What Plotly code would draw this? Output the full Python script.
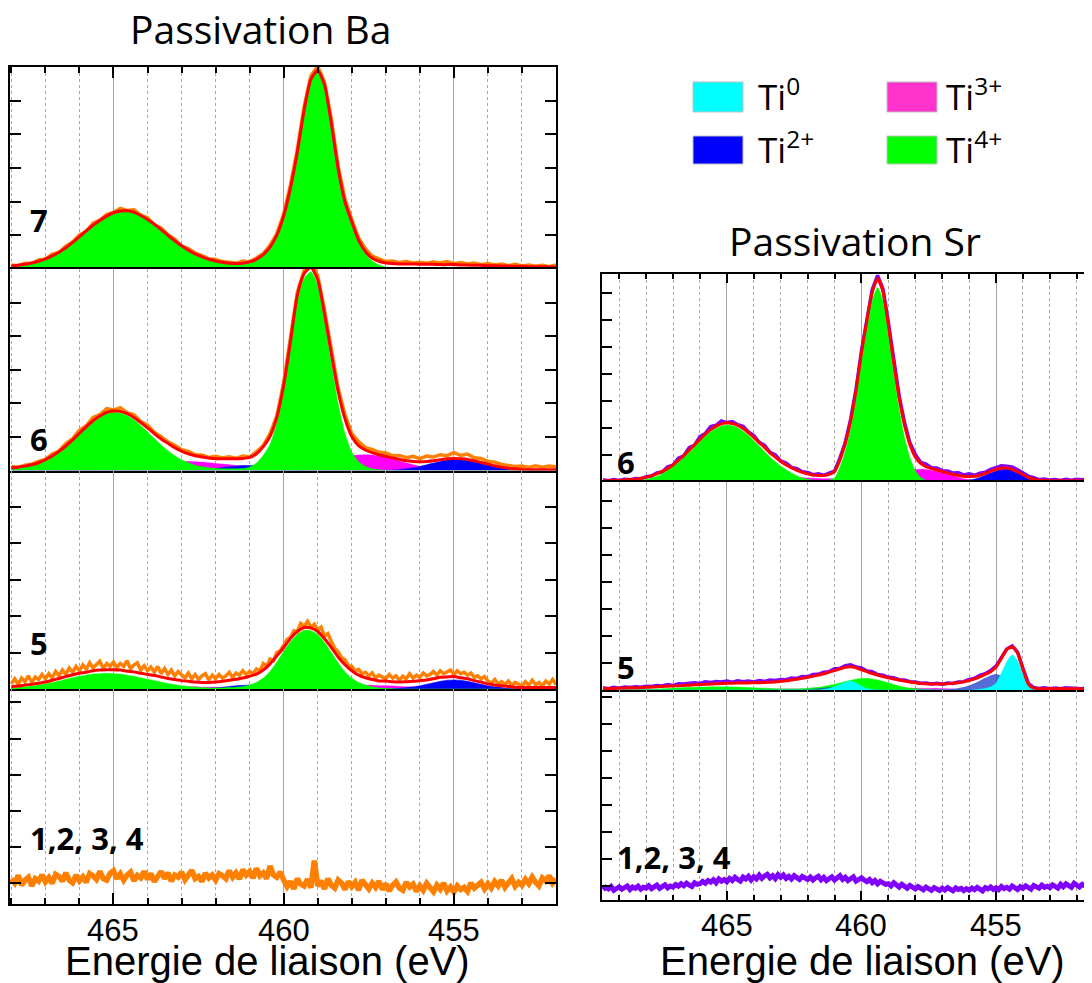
import plotly.graph_objects as go

W, H = 1092, 983
PAGE_MARGIN = 8  # the browser puts the figure 8px from the page corner

# binding energy grids (eV)
E_BA = [468.0, 467.8, 467.6, 467.4, 467.2, 467.0, 466.8, 466.6, 466.4, 466.2,
        466.0, 465.8, 465.6, 465.4, 465.2, 465.0, 464.8, 464.6, 464.4, 464.2,
        464.0, 463.8, 463.6, 463.4, 463.2, 463.0, 462.8, 462.6, 462.4, 462.2,
        462.0, 461.8, 461.6, 461.4, 461.2, 461.0, 460.8, 460.6, 460.4, 460.2,
        460.0, 459.8, 459.6, 459.4, 459.2, 459.0, 458.8, 458.6, 458.4, 458.2,
        458.0, 457.8, 457.6, 457.4, 457.2, 457.0, 456.8, 456.6, 456.4, 456.2,
        456.0, 455.8, 455.6, 455.4, 455.2, 455.0, 454.8, 454.6, 454.4, 454.2,
        454.0, 453.8, 453.6, 453.4, 453.2, 453.0, 452.8, 452.6, 452.4, 452.2,
        452.0]
E_SR = [469.6, 469.4, 469.2, 469.0, 468.8, 468.6, 468.4, 468.2] + E_BA + [451.8, 451.6, 451.4]

# finer grid for the noisiest raw spectra
E_BA_FINE = [468.0, 467.9, 467.8, 467.7, 467.6, 467.5, 467.4, 467.3, 467.2, 467.1,
             467.0, 466.9, 466.8, 466.7, 466.6, 466.5, 466.4, 466.3, 466.2, 466.1,
             466.0, 465.9, 465.8, 465.7, 465.6, 465.5, 465.4, 465.3, 465.2, 465.1,
             465.0, 464.9, 464.8, 464.7, 464.6, 464.5, 464.4, 464.3, 464.2, 464.1,
             464.0, 463.9, 463.8, 463.7, 463.6, 463.5, 463.4, 463.3, 463.2, 463.1,
             463.0, 462.9, 462.8, 462.7, 462.6, 462.5, 462.4, 462.3, 462.2, 462.1,
             462.0, 461.9, 461.8, 461.7, 461.6, 461.5, 461.4, 461.3, 461.2, 461.1,
             461.0, 460.9, 460.8, 460.7, 460.6, 460.5, 460.4, 460.3, 460.2, 460.1,
             460.0, 459.9, 459.8, 459.7, 459.6, 459.5, 459.4, 459.3, 459.2, 459.1,
             459.0, 458.9, 458.8, 458.7, 458.6, 458.5, 458.4, 458.3, 458.2, 458.1,
             458.0, 457.9, 457.8, 457.7, 457.6, 457.5, 457.4, 457.3, 457.2, 457.1,
             457.0, 456.9, 456.8, 456.7, 456.6, 456.5, 456.4, 456.3, 456.2, 456.1,
             456.0, 455.9, 455.8, 455.7, 455.6, 455.5, 455.4, 455.3, 455.2, 455.1,
             455.0, 454.9, 454.8, 454.7, 454.6, 454.5, 454.4, 454.3, 454.2, 454.1,
             454.0, 453.9, 453.8, 453.7, 453.6, 453.5, 453.4, 453.3, 453.2, 453.1,
             453.0, 452.9, 452.8, 452.7, 452.6, 452.5, 452.4, 452.3, 452.2, 452.1,
             452.0]
E_SR_FINE = ([469.6, 469.5, 469.4, 469.3, 469.2, 469.1, 469.0, 468.9,
              468.8, 468.7, 468.6, 468.5, 468.4, 468.3, 468.2, 468.1]
             + E_BA_FINE + [451.9, 451.8, 451.7, 451.6, 451.5, 451.4])

tick_values = [465, 460, 455]

# ---- Passivation Ba ----
ba7_raw = [0.12, 0.10, 0.17, 0.16, 0.27, 0.29, 0.44, 0.49, 0.68, 0.80,
           1.01, 1.12, 1.36, 1.45, 1.62, 1.68, 1.80, 1.74, 1.76, 1.60,
           1.52, 1.31, 1.22, 1.02, 0.89, 0.68, 0.61, 0.47, 0.40, 0.30,
           0.28, 0.22, 0.20, 0.17, 0.24, 0.21, 0.33, 0.46, 0.70, 1.05,
           1.64, 2.50, 3.55, 4.82, 5.74, 6.02, 5.55, 4.45, 3.05, 2.08,
           1.47, 0.92, 0.60, 0.38, 0.30, 0.22, 0.24, 0.19, 0.22, 0.18,
           0.20, 0.17, 0.21, 0.18, 0.22, 0.16, 0.19, 0.15, 0.18, 0.13,
           0.16, 0.12, 0.15, 0.10, 0.14, 0.09, 0.12, 0.08, 0.11, 0.07,
           0.12]
ba7_fit = [0.09, 0.11, 0.14, 0.18, 0.23, 0.30, 0.39, 0.50, 0.63, 0.79,
           0.96, 1.13, 1.30, 1.44, 1.57, 1.67, 1.72, 1.73, 1.69, 1.59,
           1.47, 1.33, 1.17, 1.00, 0.84, 0.69, 0.56, 0.45, 0.36, 0.29,
           0.24, 0.20, 0.17, 0.16, 0.17, 0.21, 0.29, 0.43, 0.65, 1.01,
           1.58, 2.41, 3.46, 4.71, 5.63, 5.90, 5.47, 4.32, 2.98, 1.99,
           1.40, 0.86, 0.52, 0.32, 0.23, 0.18, 0.16, 0.15, 0.15, 0.15,
           0.14, 0.14, 0.14, 0.13, 0.13, 0.13, 0.12, 0.12, 0.11, 0.11,
           0.10, 0.10, 0.09, 0.09, 0.08, 0.08, 0.07, 0.07, 0.07, 0.06,
           0.06]
ba7_ti4 = [0.08, 0.10, 0.13, 0.17, 0.22, 0.29, 0.38, 0.49, 0.62, 0.78,
           0.95, 1.12, 1.29, 1.43, 1.56, 1.66, 1.71, 1.72, 1.68, 1.58,
           1.46, 1.32, 1.16, 0.99, 0.83, 0.68, 0.55, 0.44, 0.35, 0.28,
           0.23, 0.19, 0.16, 0.15, 0.16, 0.20, 0.28, 0.42, 0.64, 1.00,
           1.57, 2.40, 3.45, 4.70, 5.62, 5.88, 5.45, 4.30, 2.95, 1.95,
           1.35, 0.80, 0.45, 0.24, 0.12, 0.06, 0.03, 0.02, 0.01, 0.0,
           0, 0, 0, 0, 0, 0, 0, 0, 0, 0,
           0, 0, 0, 0, 0, 0, 0, 0, 0, 0,
           0]

ba6_raw = [0.12, 0.09, 0.16, 0.19, 0.27, 0.33, 0.49, 0.58, 0.80, 0.95,
           1.20, 1.33, 1.58, 1.66, 1.84, 1.80, 1.87, 1.72, 1.66, 1.46,
           1.35, 1.14, 1.01, 0.85, 0.75, 0.62, 0.57, 0.47, 0.46, 0.39,
           0.42, 0.37, 0.41, 0.36, 0.43, 0.40, 0.56, 0.74, 1.10, 1.63,
           2.62, 3.90, 5.30, 5.95, 6.20, 5.80, 4.78, 3.60, 2.45, 1.66,
           1.10, 0.86, 0.68, 0.63, 0.54, 0.52, 0.44, 0.45, 0.38, 0.42,
           0.35, 0.43, 0.40, 0.47, 0.44, 0.53, 0.45, 0.49, 0.38, 0.36,
           0.27, 0.25, 0.18, 0.15, 0.12, 0.13, 0.09, 0.14, 0.10, 0.13,
           0.11]
ba6_fit = [0.08, 0.10, 0.13, 0.17, 0.23, 0.32, 0.43, 0.57, 0.73, 0.91,
           1.11, 1.30, 1.48, 1.62, 1.73, 1.77, 1.76, 1.69, 1.58, 1.43,
           1.27, 1.10, 0.94, 0.81, 0.68, 0.58, 0.50, 0.44, 0.40, 0.37,
           0.35, 0.35, 0.35, 0.35, 0.36, 0.39, 0.50, 0.71, 1.02, 1.59,
           2.54, 3.84, 5.21, 5.86, 6.05, 5.68, 4.66, 3.48, 2.36, 1.54,
           1.01, 0.74, 0.61, 0.53, 0.47, 0.42, 0.37, 0.33, 0.29, 0.27,
           0.26, 0.27, 0.29, 0.32, 0.35, 0.36, 0.35, 0.33, 0.29, 0.24,
           0.19, 0.14, 0.10, 0.07, 0.05, 0.03, 0.02, 0.02, 0.02, 0.02,
           0.02]
ba6_ti4 = [0.05, 0.07, 0.10, 0.14, 0.20, 0.29, 0.40, 0.54, 0.70, 0.87,
           1.07, 1.26, 1.44, 1.58, 1.69, 1.73, 1.71, 1.63, 1.51, 1.34,
           1.15, 0.95, 0.76, 0.59, 0.44, 0.32, 0.23, 0.16, 0.11, 0.08,
           0.06, 0.05, 0.05, 0.05, 0.06, 0.10, 0.22, 0.45, 0.78, 1.42,
           2.40, 3.70, 5.07, 5.72, 5.92, 5.52, 4.45, 3.20, 2.00, 1.10,
           0.55, 0.26, 0.12, 0.05, 0.02, 0.01, 0, 0, 0, 0,
           0, 0, 0, 0, 0, 0, 0, 0, 0, 0,
           0, 0, 0, 0, 0, 0, 0, 0, 0, 0,
           0]
ba6_ti3 = [0, 0, 0, 0, 0, 0.01, 0.01, 0.01, 0.02, 0.02,
           0.03, 0.04, 0.05, 0.06, 0.08, 0.09, 0.11, 0.13, 0.15, 0.17,
           0.19, 0.21, 0.23, 0.25, 0.26, 0.27, 0.27, 0.26, 0.25, 0.23,
           0.21, 0.19, 0.17, 0.15, 0.13, 0.12, 0.12, 0.12, 0.13, 0.15,
           0.17, 0.19, 0.22, 0.25, 0.28, 0.31, 0.34, 0.36, 0.39, 0.42,
           0.44, 0.46, 0.47, 0.46, 0.43, 0.39, 0.34, 0.28, 0.22, 0.17,
           0.12, 0.08, 0.05, 0.03, 0.02, 0.01, 0, 0, 0, 0,
           0, 0, 0, 0, 0, 0, 0, 0, 0, 0,
           0]
ba6_ti2 = [0, 0, 0, 0, 0, 0, 0, 0, 0, 0,
           0, 0, 0, 0, 0, 0, 0, 0, 0, 0,
           0, 0, 0, 0, 0, 0, 0, 0.01, 0.02, 0.04,
           0.06, 0.09, 0.11, 0.13, 0.15, 0.15, 0.14, 0.12, 0.09, 0.07,
           0.05, 0.03, 0.02, 0.01, 0, 0, 0, 0, 0, 0,
           0, 0, 0, 0, 0, 0, 0.01, 0.03, 0.05, 0.08,
           0.12, 0.17, 0.22, 0.27, 0.31, 0.33, 0.33, 0.31, 0.27, 0.22,
           0.17, 0.12, 0.08, 0.05, 0.03, 0.01, 0, 0, 0, 0,
           0]

ba5_raw = [0.14, 0.28, 0.12, 0.30, 0.20, 0.36, 0.18, 0.33, 0.26, 0.40,
           0.28, 0.42, 0.30, 0.48, 0.36, 0.52, 0.40, 0.58, 0.46, 0.62,
           0.50, 0.66, 0.54, 0.72, 0.58, 0.68, 0.76, 0.56, 0.70, 0.62,
           0.74, 0.58, 0.70, 0.62, 0.78, 0.55, 0.66, 0.72, 0.52, 0.64,
           0.50, 0.60, 0.46, 0.62, 0.42, 0.56, 0.40, 0.52, 0.36, 0.48,
           0.38, 0.30, 0.44, 0.28, 0.40, 0.26, 0.36, 0.42, 0.25, 0.38,
           0.28, 0.40, 0.30, 0.36, 0.46, 0.32, 0.44, 0.38, 0.50, 0.40,
           0.48, 0.42, 0.55, 0.50, 0.70, 0.62, 0.82, 0.78, 1.00, 1.05,
           1.20, 1.36, 1.42, 1.60, 1.58, 1.80, 1.72, 1.86, 1.70, 1.78,
           1.62, 1.70, 1.45, 1.52, 1.30, 1.12, 1.02, 0.86, 0.80, 0.64,
           0.62, 0.50, 0.54, 0.42, 0.46, 0.36, 0.44, 0.30, 0.38, 0.34,
           0.28, 0.40, 0.30, 0.36, 0.24, 0.35, 0.28, 0.42, 0.30, 0.38,
           0.32, 0.44, 0.36, 0.40, 0.48, 0.38, 0.50, 0.42, 0.46, 0.52,
           0.40, 0.50, 0.42, 0.46, 0.38, 0.44, 0.32, 0.36, 0.28, 0.34,
           0.22, 0.16, 0.26, 0.14, 0.20, 0.12, 0.22, 0.10, 0.18, 0.14,
           0.08, 0.20, 0.10, 0.24, 0.12, 0.18, 0.08, 0.22, 0.14, 0.26,
           0.12]
ba5_fit = [0.07, 0.08, 0.11, 0.13, 0.16, 0.19, 0.24, 0.29, 0.34, 0.39,
           0.43, 0.46, 0.50, 0.52, 0.53, 0.53, 0.52, 0.49, 0.47, 0.43,
           0.40, 0.37, 0.33, 0.29, 0.26, 0.23, 0.21, 0.19, 0.18, 0.18,
           0.19, 0.21, 0.24, 0.27, 0.30, 0.35, 0.41, 0.52, 0.69, 0.91,
           1.14, 1.39, 1.58, 1.69, 1.68, 1.58, 1.38, 1.14, 0.88, 0.67,
           0.50, 0.38, 0.31, 0.26, 0.22, 0.22, 0.20, 0.19, 0.20, 0.21,
           0.23, 0.25, 0.28, 0.32, 0.33, 0.34, 0.31, 0.28, 0.23, 0.19,
           0.14, 0.11, 0.09, 0.07, 0.05, 0.04, 0.04, 0.04, 0.04, 0.04,
           0.04]
ba5_ti4 = [0.03, 0.04, 0.06, 0.08, 0.11, 0.14, 0.18, 0.22, 0.27, 0.31,
           0.35, 0.38, 0.41, 0.42, 0.43, 0.42, 0.41, 0.38, 0.35, 0.31,
           0.27, 0.23, 0.19, 0.15, 0.12, 0.09, 0.07, 0.05, 0.04, 0.03,
           0.03, 0.03, 0.04, 0.05, 0.07, 0.11, 0.18, 0.30, 0.48, 0.74,
           1.04, 1.30, 1.50, 1.61, 1.60, 1.49, 1.28, 1.00, 0.72, 0.47,
           0.30, 0.18, 0.11, 0.06, 0.03, 0.02, 0.01, 0, 0, 0,
           0, 0, 0, 0, 0, 0, 0, 0, 0, 0,
           0, 0, 0, 0, 0, 0, 0, 0, 0, 0,
           0]
ba5_ti3 = [0, 0, 0, 0, 0, 0, 0.01, 0.01, 0.01, 0.02,
           0.02, 0.02, 0.03, 0.03, 0.03, 0.04, 0.04, 0.04, 0.05, 0.05,
           0.05, 0.06, 0.06, 0.06, 0.06, 0.06, 0.06, 0.06, 0.05, 0.05,
           0.05, 0.04, 0.04, 0.04, 0.04, 0.04, 0.04, 0.04, 0.05, 0.05,
           0.05, 0.06, 0.06, 0.07, 0.07, 0.08, 0.08, 0.09, 0.09, 0.10,
           0.10, 0.10, 0.10, 0.10, 0.09, 0.09, 0.08, 0.07, 0.06, 0.05,
           0.04, 0.03, 0.02, 0.02, 0.01, 0.01, 0, 0, 0, 0,
           0, 0, 0, 0, 0, 0, 0, 0, 0, 0,
           0]
ba5_ti2 = [0, 0, 0, 0, 0, 0, 0, 0, 0, 0,
           0, 0, 0, 0, 0, 0, 0, 0, 0, 0,
           0, 0, 0, 0, 0, 0, 0, 0, 0.01, 0.02,
           0.03, 0.05, 0.07, 0.09, 0.10, 0.11, 0.10, 0.09, 0.07, 0.05,
           0.03, 0.02, 0.01, 0, 0, 0, 0, 0, 0, 0,
           0, 0, 0, 0, 0, 0.01, 0.01, 0.02, 0.04, 0.06,
           0.09, 0.13, 0.17, 0.21, 0.24, 0.25, 0.24, 0.21, 0.17, 0.13,
           0.09, 0.06, 0.04, 0.02, 0.01, 0, 0, 0, 0, 0,
           0]

ba1_raw = [0.70, 0.58, 0.79, 0.52, 0.66, 0.74, 0.50, 0.70, 0.63, 0.80,
           0.61, 0.73, 0.57, 0.82, 0.76, 0.63, 0.86, 0.66, 0.59, 0.80,
           0.64, 0.75, 0.60, 0.84, 0.78, 0.68, 0.90, 0.70, 0.66, 0.85,
           0.92, 0.70, 0.83, 0.66, 0.80, 0.88, 0.64, 0.79, 0.72, 0.90,
           0.68, 0.84, 0.62, 0.77, 0.90, 0.70, 0.86, 0.63, 0.80, 0.74,
           0.88, 0.67, 0.81, 0.93, 0.70, 0.76, 0.62, 0.85, 0.72, 0.80,
           0.66, 0.84, 0.78, 0.70, 0.92, 0.74, 0.86, 0.69, 0.95, 0.80,
           0.90, 0.72, 0.98, 0.78, 0.86, 0.70, 1.05, 0.80, 0.74, 0.88,
           0.66, 0.48, 0.62, 0.42, 0.70, 0.55, 0.50, 0.68, 0.45, 1.20,
           0.50, 0.64, 0.42, 0.70, 0.52, 0.44, 0.66, 0.58, 0.40, 0.62,
           0.48, 0.60, 0.38, 0.66, 0.54, 0.42, 0.58, 0.46, 0.63, 0.40,
           0.56, 0.36, 0.52, 0.61, 0.44, 0.38, 0.60, 0.47, 0.55, 0.35,
           0.50, 0.38, 0.57, 0.44, 0.34, 0.52, 0.41, 0.58, 0.36, 0.47,
           0.33, 0.50, 0.40, 0.46, 0.35, 0.58, 0.44, 0.52, 0.60, 0.42,
           0.56, 0.44, 0.62, 0.50, 0.66, 0.46, 0.58, 0.70, 0.49, 0.60,
           0.52, 0.68, 0.56, 0.74, 0.60, 0.50, 0.72, 0.64, 0.78, 0.58,
           0.70]

# ---- Passivation Sr ----
sr6_raw = [0.08, 0.05, 0.09, 0.06, 0.10, 0.08, 0.13, 0.12, 0.20, 0.22,
           0.34, 0.37, 0.56, 0.62, 0.88, 0.97, 1.27, 1.36, 1.68, 1.80,
           2.05, 2.10, 2.26, 2.20, 2.24, 2.12, 2.06, 1.85, 1.72, 1.47,
           1.36, 1.10, 1.00, 0.78, 0.70, 0.54, 0.49, 0.38, 0.35, 0.27,
           0.30, 0.25, 0.33, 0.40, 0.88, 1.47, 2.33, 3.44, 4.85, 6.02,
           7.12, 7.65, 7.15, 5.90, 4.48, 3.20, 2.20, 1.45, 1.02, 0.73,
           0.66, 0.53, 0.52, 0.42, 0.41, 0.33, 0.34, 0.26, 0.30, 0.25,
           0.33, 0.36, 0.47, 0.52, 0.60, 0.58, 0.56, 0.45, 0.35, 0.22,
           0.16, 0.09, 0.11, 0.07, 0.09, 0.06, 0.10, 0.07, 0.10, 0.08,
           0.11, 0.09]
sr6_fit = [0.05, 0.05, 0.06, 0.06, 0.07, 0.09, 0.10, 0.14, 0.17, 0.23,
           0.30, 0.39, 0.50, 0.64, 0.80, 0.98, 1.18, 1.38, 1.58, 1.77,
           1.94, 2.07, 2.15, 2.19, 2.16, 2.10, 1.98, 1.83, 1.65, 1.46,
           1.28, 1.09, 0.92, 0.77, 0.63, 0.53, 0.43, 0.36, 0.30, 0.26,
           0.24, 0.24, 0.28, 0.39, 0.82, 1.44, 2.26, 3.41, 4.77, 5.97,
           7.02, 7.53, 7.05, 5.81, 4.39, 3.12, 2.11, 1.39, 0.93, 0.69,
           0.57, 0.50, 0.44, 0.39, 0.33, 0.28, 0.24, 0.21, 0.20, 0.21,
           0.25, 0.32, 0.39, 0.47, 0.51, 0.52, 0.47, 0.38, 0.27, 0.17,
           0.10, 0.07, 0.06, 0.05, 0.05, 0.05, 0.05, 0.05, 0.05, 0.05,
           0.05, 0.05]
sr6_ti4 = [0, 0, 0.01, 0.01, 0.02, 0.03, 0.04, 0.07, 0.10, 0.15,
           0.21, 0.30, 0.44, 0.57, 0.72, 0.90, 1.10, 1.30, 1.50, 1.69,
           1.86, 1.99, 2.07, 2.11, 2.08, 2.01, 1.88, 1.72, 1.53, 1.33,
           1.13, 0.93, 0.75, 0.59, 0.45, 0.33, 0.23, 0.15, 0.10, 0.07,
           0.05, 0.05, 0.07, 0.15, 0.55, 1.15, 1.95, 3.10, 4.45, 5.65,
           6.70, 7.20, 6.70, 5.45, 4.00, 2.70, 1.65, 0.90, 0.42, 0.17,
           0.06, 0.02, 0, 0, 0, 0, 0, 0, 0, 0,
           0, 0, 0, 0, 0, 0, 0, 0, 0, 0,
           0, 0, 0, 0, 0, 0, 0, 0, 0, 0,
           0, 0]
sr6_ti3 = [0, 0, 0, 0, 0, 0.01, 0.01, 0.02, 0.02, 0.03,
           0.04, 0.04, 0.05, 0.06, 0.07, 0.08, 0.09, 0.10, 0.11, 0.12,
           0.13, 0.14, 0.15, 0.16, 0.16, 0.17, 0.17, 0.18, 0.18, 0.18,
           0.19, 0.19, 0.19, 0.19, 0.18, 0.18, 0.17, 0.16, 0.15, 0.14,
           0.13, 0.12, 0.12, 0.12, 0.12, 0.12, 0.13, 0.14, 0.16, 0.18,
           0.20, 0.23, 0.26, 0.29, 0.33, 0.37, 0.41, 0.44, 0.46, 0.47,
           0.46, 0.43, 0.39, 0.34, 0.28, 0.22, 0.17, 0.12, 0.08, 0.05,
           0.03, 0.02, 0.01, 0.01, 0, 0, 0, 0, 0, 0,
           0, 0, 0, 0, 0, 0, 0, 0, 0, 0,
           0, 0]
sr6_ti2 = [0, 0, 0, 0, 0, 0, 0, 0, 0, 0,
           0, 0, 0, 0, 0, 0, 0, 0, 0, 0,
           0, 0, 0, 0, 0, 0, 0, 0, 0, 0,
           0, 0, 0, 0, 0, 0, 0, 0, 0, 0,
           0.01, 0.02, 0.04, 0.07, 0.10, 0.12, 0.13, 0.12, 0.11, 0.09,
           0.07, 0.05, 0.04, 0.02, 0.01, 0, 0, 0, 0, 0,
           0, 0, 0, 0, 0, 0.01, 0.02, 0.04, 0.07, 0.11,
           0.17, 0.25, 0.33, 0.41, 0.46, 0.47, 0.42, 0.33, 0.22, 0.12,
           0.05, 0.02, 0.01, 0, 0, 0, 0, 0, 0, 0,
           0, 0]

sr5_raw = [0.08, 0.05, 0.10, 0.07, 0.11, 0.09, 0.12, 0.10, 0.14, 0.13,
           0.17, 0.15, 0.20, 0.17, 0.23, 0.22, 0.25, 0.27, 0.24, 0.30,
           0.28, 0.31, 0.30, 0.33, 0.29, 0.34, 0.31, 0.33, 0.30, 0.35,
           0.32, 0.37, 0.35, 0.39, 0.38, 0.44, 0.43, 0.50, 0.49, 0.57,
           0.58, 0.66, 0.68, 0.79, 0.80, 0.90, 0.93, 0.85, 0.82, 0.70,
           0.68, 0.57, 0.55, 0.47, 0.45, 0.38, 0.37, 0.31, 0.30, 0.25,
           0.26, 0.22, 0.25, 0.21, 0.26, 0.24, 0.30, 0.31, 0.39, 0.43,
           0.54, 0.60, 0.72, 0.88, 1.20, 1.52, 1.63, 1.40, 0.80, 0.25,
           0.09, 0.06, 0.08, 0.05, 0.07, 0.05, 0.08, 0.06, 0.07, 0.05,
           0.08, 0.06]
sr5_fit = [0.06, 0.06, 0.06, 0.07, 0.07, 0.08, 0.08, 0.09, 0.10, 0.11,
           0.12, 0.13, 0.14, 0.15, 0.16, 0.17, 0.18, 0.19, 0.20, 0.21,
           0.22, 0.23, 0.24, 0.25, 0.25, 0.26, 0.26, 0.26, 0.27, 0.27,
           0.28, 0.29, 0.30, 0.32, 0.34, 0.37, 0.40, 0.43, 0.47, 0.51,
           0.55, 0.60, 0.66, 0.72, 0.78, 0.84, 0.86, 0.82, 0.75, 0.68,
           0.61, 0.55, 0.50, 0.45, 0.41, 0.37, 0.33, 0.30, 0.27, 0.24,
           0.23, 0.22, 0.22, 0.22, 0.23, 0.25, 0.27, 0.30, 0.35, 0.41,
           0.49, 0.58, 0.68, 0.85, 1.18, 1.50, 1.60, 1.38, 0.78, 0.22,
           0.07, 0.05, 0.05, 0.05, 0.05, 0.05, 0.05, 0.05, 0.05, 0.05,
           0.05, 0.05]
sr5_ti4 = [0, 0, 0, 0.01, 0.01, 0.01, 0.01, 0.02, 0.02, 0.03,
           0.04, 0.05, 0.06, 0.07, 0.08, 0.09, 0.10, 0.10, 0.11, 0.11,
           0.12, 0.12, 0.12, 0.12, 0.11, 0.11, 0.10, 0.09, 0.08, 0.07,
           0.06, 0.06, 0.05, 0.04, 0.04, 0.04, 0.04, 0.05, 0.06, 0.08,
           0.10, 0.13, 0.17, 0.21, 0.26, 0.31, 0.36, 0.40, 0.43, 0.43,
           0.41, 0.37, 0.32, 0.26, 0.20, 0.15, 0.10, 0.07, 0.05, 0.03,
           0.02, 0.01, 0, 0, 0, 0, 0, 0, 0, 0,
           0, 0, 0, 0, 0, 0, 0, 0, 0, 0,
           0, 0, 0, 0, 0, 0, 0, 0, 0, 0,
           0, 0]
sr5_ti3 = [0, 0, 0, 0, 0, 0, 0, 0, 0, 0,
           0, 0, 0, 0, 0, 0, 0, 0, 0, 0,
           0.01, 0.01, 0.01, 0.02, 0.02, 0.02, 0.03, 0.03, 0.03, 0.03,
           0.04, 0.04, 0.04, 0.04, 0.04, 0.04, 0.04, 0.04, 0.04, 0.04,
           0.04, 0.04, 0.04, 0.04, 0.04, 0.04, 0.04, 0.04, 0.04, 0.04,
           0.04, 0.04, 0.05, 0.05, 0.05, 0.05, 0.05, 0.06, 0.06, 0.06,
           0.06, 0.06, 0.06, 0.05, 0.05, 0.04, 0.03, 0.02, 0.02, 0.01,
           0, 0, 0, 0, 0, 0, 0, 0, 0, 0,
           0, 0, 0, 0, 0, 0, 0, 0, 0, 0,
           0, 0]
sr5_ti2 = [0, 0, 0, 0, 0, 0, 0, 0, 0, 0,
           0, 0, 0, 0, 0, 0, 0, 0, 0, 0,
           0, 0, 0, 0, 0, 0, 0, 0, 0, 0,
           0, 0, 0, 0, 0, 0, 0, 0, 0.01, 0.03,
           0.05, 0.07, 0.09, 0.10, 0.09, 0.07, 0.05, 0.03, 0.01, 0,
           0, 0, 0, 0, 0, 0, 0, 0, 0, 0,
           0, 0, 0, 0, 0, 0.03, 0.06, 0.10, 0.16, 0.24,
           0.33, 0.44, 0.53, 0.58, 0.52, 0.42, 0.30, 0.20, 0.12, 0.06,
           0.02, 0, 0, 0, 0, 0, 0, 0, 0, 0,
           0, 0]
sr5_ti0 = [0, 0, 0, 0, 0, 0, 0, 0, 0, 0,
           0, 0, 0, 0, 0, 0, 0, 0, 0, 0,
           0, 0, 0, 0, 0, 0, 0, 0, 0, 0,
           0, 0, 0, 0, 0, 0, 0, 0, 0, 0,
           0, 0.03, 0.06, 0.12, 0.20, 0.28, 0.34, 0.26, 0.14, 0.06,
           0.02, 0, 0, 0, 0, 0, 0, 0, 0, 0,
           0, 0, 0, 0, 0, 0, 0, 0, 0, 0.01,
           0.03, 0.06, 0.12, 0.25, 0.62, 1.05, 1.30, 1.08, 0.58, 0.18,
           0.04, 0.01, 0, 0, 0, 0, 0, 0, 0, 0,
           0, 0]

sr1_raw = [0.38, 0.47, 0.41, 0.50, 0.36, 0.45, 0.49, 0.40, 0.46, 0.52,
           0.39, 0.48, 0.43, 0.51, 0.40, 0.47,
           0.44, 0.53, 0.42, 0.50, 0.55, 0.43, 0.49, 0.56, 0.45, 0.52,
           0.48, 0.57, 0.51, 0.60, 0.53, 0.62, 0.55, 0.50, 0.64, 0.58,
           0.60, 0.69, 0.62, 0.72, 0.66, 0.75, 0.64, 0.78, 0.70, 0.76,
           0.68, 0.80, 0.72, 0.84, 0.76, 0.70, 0.85, 0.78, 0.88, 0.74,
           0.86, 0.78, 0.92, 0.80, 0.89, 0.95, 0.82, 0.90, 0.79, 0.94,
           0.84, 0.93, 0.80, 0.88, 0.78, 0.90, 0.83, 0.76, 0.87, 0.80,
           0.76, 0.85, 0.74, 0.82, 0.88, 0.75, 0.84, 0.72, 0.80, 0.86,
           0.74, 0.82, 0.90, 0.76, 0.84, 0.72, 0.80, 0.86, 0.70, 0.78,
           0.82, 0.74, 0.68, 0.76, 0.64, 0.72, 0.60, 0.69, 0.63, 0.58,
           0.60, 0.52, 0.64, 0.55, 0.48, 0.58, 0.50, 0.44, 0.54, 0.47,
           0.41, 0.50, 0.44, 0.38, 0.48, 0.42, 0.36, 0.46, 0.40, 0.35,
           0.44, 0.37, 0.46, 0.40, 0.34, 0.45, 0.39, 0.43, 0.35, 0.42,
           0.36, 0.44, 0.38, 0.47, 0.40, 0.34, 0.46, 0.41, 0.48, 0.39,
           0.45, 0.38, 0.50, 0.42, 0.47, 0.40, 0.52, 0.44, 0.39, 0.49,
           0.43, 0.52, 0.46, 0.40, 0.54, 0.48, 0.44, 0.55, 0.47, 0.51,
           0.46, 0.56, 0.50, 0.44, 0.58, 0.49, 0.60, 0.53, 0.47, 0.62,
           0.55,
           0.48, 0.58, 0.50, 0.46, 0.56, 0.49]

sample_labels = ["7", "6", "5", "1,2, 3, 4", "6", "5", "1,2, 3, 4"]
legend_names = ["Ti<sup>0</sup>", "Ti<sup>2+</sup>", "Ti<sup>3+</sup>", "Ti<sup>4+</sup>"]

ORANGE = "#ff7f00"
PURPLE = "#7f00ff"
RED = "#ff0000"
GREEN = "#00ff00"
MAGENTA = "#ff00ff"
BLUE = "#0000ff"
CYAN = "#00ffff"


def fx(p):
    return (p - PAGE_MARGIN) / W


def fy(p):
    return 1 - (p - PAGE_MARGIN) / H


fig = go.Figure()

# subplot boxes in page pixels: id, x span, y span, y max, first y tick, role, group
# (each shared border is drawn by only one of the two stacked panels)
panels = [
    (1, (10, 556), (67, 269), 6.0, 0, "top", "ba"),
    (2, (10, 556), (269, 470.5), 6.0, 0, "mid", "ba"),
    (3, (10, 556), (470.5, 689), 6.0, 0, "low", "ba"),
    (4, (10, 556), (689, 904), 5.94, 1.57, "bottom", "ba"),
    (5, (601.7, 1094), (274, 482), 7.7, 0, "top", "sr"),
    (6, (601.7, 1094), (482, 690), 7.7, 0, "mid", "sr"),
    (7, (601.7, 1094), (690, 900), 7.78, 1.51, "bottom", "sr"),
]

for n, (x0, x1), (y0, y1), ymax, t0, role, grp in panels:
    s = "" if n == 1 else str(n)
    big = 11 if grp == "ba" else 9
    small = 6 if grp == "ba" else 5
    xa = dict(domain=[fx(x0), min(fx(x1), 1.0)], anchor="y" + s,
              range=[468.04, 452.0] if grp == "ba" else [469.65, 451.36],
              tick0=455, dtick=5, showgrid=True, gridcolor="#a4a4a4", gridwidth=1.4,
              showline=True, mirror=(role == "mid"), linecolor="black", linewidth=2,
              zeroline=False, ticks="", showticklabels=False,
              minor=dict(tick0=455, dtick=1, showgrid=True, gridcolor="#a8a8a8",
                         griddash="dot", gridwidth=1, ticks=""))
    if role in ("top", "bottom"):
        xa.update(ticks="inside", ticklen=big, tickwidth=2, tickcolor="black")
        xa["minor"].update(ticks="inside", ticklen=small, tickwidth=1.6, tickcolor="black")
    if role == "top":
        xa["side"] = "top"
    ya = dict(domain=[fy(y1), fy(y0)], anchor="x" + s, range=[0, ymax],
              tick0=t0, dtick=1, ticks="inside", ticklen=11 if grp == "ba" else 10,
              tickwidth=2, tickcolor="black", showticklabels=False, showgrid=False,
              zeroline=False, showline=True, mirror="ticks", linecolor="black", linewidth=2)
    fig.update_layout(**{"xaxis" + s: xa, "yaxis" + s: ya})


def ax(n):
    return ("x", "y") if n == 1 else ("x" + str(n), "y" + str(n))


def raw(n, x, y, color, width=3.5):
    xr, yr = ax(n)
    fig.add_trace(go.Scatter(x=x, y=y, xaxis=xr, yaxis=yr, mode="lines",
                             line=dict(color=color, width=width), hoverinfo="skip"))


def comp(n, x, y, color):
    xr, yr = ax(n)
    fig.add_trace(go.Scatter(x=x, y=y, xaxis=xr, yaxis=yr, mode="lines",
                             line=dict(color=color, width=0.5, shape="spline", smoothing=0.6),
                             fill="tozeroy", fillcolor=color, hoverinfo="skip"))


def fit(n, x, y):
    xr, yr = ax(n)
    fig.add_trace(go.Scatter(x=x, y=y, xaxis=xr, yaxis=yr, mode="lines",
                             line=dict(color=RED, width=3, shape="spline", smoothing=0.6),
                             hoverinfo="skip"))


# Ba 7
raw(1, E_BA, ba7_raw, ORANGE)
comp(1, E_BA, ba7_ti4, GREEN)
fit(1, E_BA, ba7_fit)
# Ba 6
raw(2, E_BA, ba6_raw, ORANGE)
comp(2, E_BA, ba6_ti3, MAGENTA)
comp(2, E_BA, ba6_ti2, BLUE)
comp(2, E_BA, ba6_ti4, GREEN)
fit(2, E_BA, ba6_fit)
# Ba 5
raw(3, E_BA_FINE, ba5_raw, ORANGE, 3.5)
comp(3, E_BA, ba5_ti3, MAGENTA)
comp(3, E_BA, ba5_ti2, BLUE)
comp(3, E_BA, ba5_ti4, GREEN)
fit(3, E_BA, ba5_fit)
# Ba 1-4
raw(4, E_BA_FINE, ba1_raw, ORANGE, 5.5)
# Sr 6
raw(5, E_SR, sr6_raw, PURPLE)
comp(5, E_SR, sr6_ti3, MAGENTA)
comp(5, E_SR, sr6_ti2, BLUE)
comp(5, E_SR, sr6_ti4, GREEN)
fit(5, E_SR, sr6_fit)
# Sr 5
raw(6, E_SR, sr5_raw, PURPLE)
comp(6, E_SR, sr5_ti3, MAGENTA)
comp(6, E_SR, sr5_ti4, GREEN)
comp(6, E_SR, sr5_ti2, "rgba(30,60,200,0.75)")
comp(6, E_SR, sr5_ti0, CYAN)
fit(6, E_SR, sr5_fit)
# Sr 1-4
raw(7, E_SR_FINE, sr1_raw, PURPLE, 5)

ann = []


def note(px, py, text, size, family="Open Sans", anchor="center", xref="paper", xval=None):
    ann.append(dict(x=fx(px) if xval is None else xval, y=fy(py), xref=xref, yref="paper",
                    text=text, showarrow=False, xanchor=anchor, yanchor="middle",
                    font=dict(family=family, size=size, color="black")))


note(260, 28, "Passivation Ba", 39)
note(855, 241, "Passivation Sr", 39)
note(267, 961, "Energie de liaison (eV)", 40, "Liberation Sans, Arial")
note(862, 961, "Energie de liaison (eV)", 40, "Liberation Sans, Arial")

# energy tick labels, placed through the bottom x axes
for v in tick_values:
    note(0, 930, str(v), 31, "Liberation Sans, Arial", xref="x4", xval=v)
    note(0, 925, str(v), 31, "Liberation Sans, Arial", xref="x7", xval=v)

label_pos = [(28, 220), (28, 439), (28, 643), (28, 838), (615, 462), (615, 667), (615, 857)]
for txt, (lx, ly) in zip(sample_labels, label_pos):
    note(lx, ly, "<b>" + txt + "</b>", 31, anchor="left")

# legend
shapes = []
leg_colors = [CYAN, BLUE, "#ff33cc", GREEN]
leg_boxes = [(693, 82, 743, 112), (693, 136, 743, 164), (887, 82, 937, 112), (887, 136, 937, 164)]
leg_text = [(756, 94), (756, 147), (944, 94), (944, 147)]
for c, (bx0, by0, bx1, by1), (tx, ty), name in zip(leg_colors, leg_boxes, leg_text, legend_names):
    shapes.append(dict(type="rect", xref="paper", yref="paper",
                       x0=fx(bx0), x1=fx(bx1), y0=fy(by1), y1=fy(by0),
                       fillcolor=c, line=dict(color="#c0c0c0", width=1)))
    note(tx, ty, name, 35, anchor="left")

fig.update_layout(width=W, height=H, margin=dict(l=0, r=0, t=0, b=0),
                  paper_bgcolor="white", plot_bgcolor="white", showlegend=False,
                  annotations=ann, shapes=shapes)

fig.write_html("out.html")
